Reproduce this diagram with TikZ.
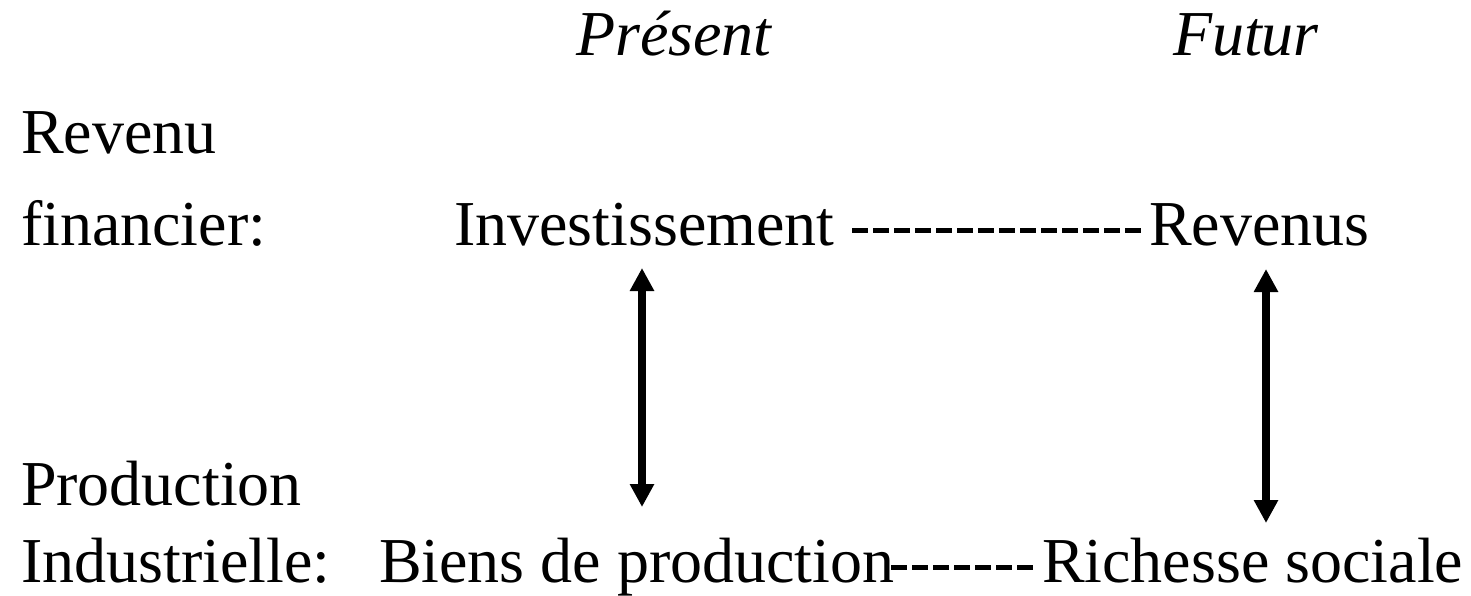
\documentclass[tikz,border=0pt]{standalone}
\usepackage{fontspec}
\setmainfont{Liberation Serif}
\usetikzlibrary{arrows.meta}
\begin{document}
\begin{tikzpicture}[x=1pt,y=-1pt,
  txt/.style={inner sep=0pt,outer sep=0pt,anchor=base west,font=\fontsize{64}{76}\selectfont},
  itxt/.style={txt,font=\fontsize{64}{76}\selectfont\itshape},
  dashline/.style={line width=5pt,dash pattern=on 16pt off 5pt},
  dbl/.style={line width=7.5pt,{Triangle[width=23pt,length=23pt]}-{Triangle[width=23pt,length=23pt]}}]
\useasboundingbox (0,0) rectangle (1471,595);
\node[itxt] (pres) at (576,55) {Présent};
\node[itxt] (fut) at (1173,55) {Futur};
\node[txt] (rev1) at (21,153) {Revenu};
\node[txt] (fin) at (21,245) {financier:};
\node[txt] (inv) at (454,245) {Investissement};
\node[txt] (revs) at (1149,245) {Revenus};
\node[txt] (prod) at (21,505) {Production};
\node[txt] (ind) at (21,582) {Industrielle:};
\node[txt] (biens) at (379,582) {Biens de production};
\node[txt] (rich) at (1042,582) {Richesse sociale};
\coordinate (d1a) at (852,230);
\coordinate (d1b) at (1141,230);
\coordinate (d2a) at (891,567);
\coordinate (d2b) at (1033,567);
\draw[dashline] (d1a) -- (d1b);
\draw[dashline] (d2a) -- (d2b);
\coordinate (a1t) at (642,268);
\coordinate (a1b) at (642,507);
\coordinate (a2t) at (1266,269);
\coordinate (a2b) at (1266,523);
\draw[dbl] (a1t) -- (a1b);
\draw[dbl] (a2t) -- (a2b);
\end{tikzpicture}
\end{document}
